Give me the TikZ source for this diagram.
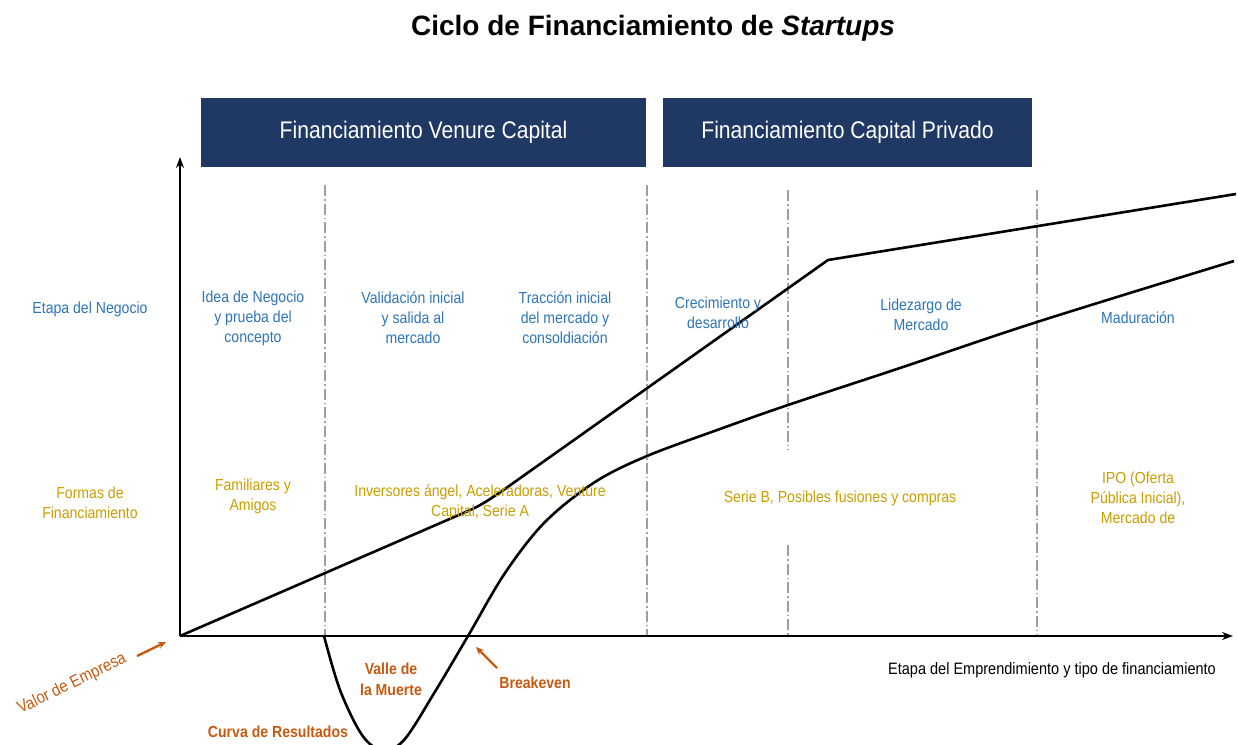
\documentclass[tikz,border=0pt]{standalone}
\usepackage{fontspec}
\setmainfont{Liberation Sans}
\newfontfamily\narrow{Liberation Sans}[FakeStretch=0.88]
\usetikzlibrary{arrows.meta}
\definecolor{navy}{RGB}{31,56,100}
\definecolor{stageblue}{RGB}{46,117,182}
\definecolor{gold}{RGB}{200,158,0}
\definecolor{rust}{RGB}{197,90,17}
\tikzset{
  hdr/.style={fill=navy, text=white, font=\narrow\fontsize{24}{28}\selectfont, minimum height=69pt, inner sep=0pt},
  lbl/.style={font=\narrow\fontsize{16}{20}\selectfont, align=center, inner sep=0pt},
  stage/.style={lbl, text=stageblue},
  fund/.style={lbl, text=gold},
  note/.style={font=\narrow\bfseries\fontsize{16}{21}\selectfont, align=center, inner sep=0pt, text=rust},
  divider/.style={draw=gray!75, line width=1.4pt, dash pattern=on 11pt off 3pt on 1.5pt off 3pt},
  axis/.style={draw=black, line width=2.2pt, -{Stealth[length=11pt,width=8pt]}},
  curve/.style={draw=black, line width=2.6pt, line join=round},
  pointer/.style={draw=rust, line width=2.4pt, -{Stealth[length=8pt,width=7pt]}}
}
\begin{document}
\begin{tikzpicture}[x=1pt,y=-1pt]
\useasboundingbox (0,0) rectangle (1238,744);

% title
\node[font=\bfseries\fontsize{28}{32}\selectfont] (title) at (653,28) {Ciclo de Financiamiento de \textit{Startups}};

% header boxes
\node[hdr, minimum width=445pt] (vc) at (423.5,132.5) {Financiamiento Venure Capital};
\node[hdr, minimum width=369pt] (cp) at (847.5,132.5) {Financiamiento Capital Privado};

% dividers
\draw[divider] (325,185) -- (325,636);
\draw[divider] (647,185) -- (647,636);
\draw[divider] (788,190) -- (788,450);
\draw[divider] (788,545) -- (788,636);
\draw[divider] (1037,190) -- (1037,636);

% axes
\coordinate (O) at (180,636);
\coordinate (ytop) at (180,157);
\coordinate (xend) at (1233,636);
\draw[axis] (O) -- (ytop);
\draw[axis] (O) -- (xend);

% value curve
\draw[curve] (O) -- (468,511) .. controls (482,505) and (490,499) .. (502,491) -- (828,260) -- (1236,194);

% results curve
\draw[curve] plot[smooth, tension=0.55] coordinates {(324,636) (340,690) (362,735) (382,750) (404,740) (436,690) (468,636) (505,573) (545,522) (595,482) (647,456) (720,429) (788,405) (900,368) (1037,322) (1234,261)};

% row labels
\node[stage] (rowa) at (90,309) {Etapa del Negocio};
\node[fund] (rowb) at (90,503) {Formas de\\Financiamiento};

% stage labels
\node[stage] (s1) at (253,318) {Idea de Negocio\\y prueba del\\concepto};
\node[stage] (s2) at (413,318) {Validación inicial\\y salida al\\mercado};
\node[stage] (s3) at (565,318) {Tracción inicial\\del mercado y\\consoldiación};
\node[stage] (s4) at (718,313) {Crecimiento y\\desarrollo};
\node[stage] (s5) at (921,315) {Lidezargo de\\Mercado};
\node[stage] (s6) at (1138,318) {Maduración};

% financing labels
\node[fund] (f1) at (253,496) {Familiares y\\Amigos};
\node[fund] (f2) at (480,502) {Inversores ángel, Aceleradoras, Venture\\Capital, Serie A};
\node[fund] (f3) at (840,498) {Serie B, Posibles fusiones y compras};
\node[fund] (f4) at (1138,498) {IPO (Oferta\\Pública Inicial),\\Mercado de};

% x-axis caption
\node[font=\narrow\fontsize{16.5}{20}\selectfont, inner sep=0pt, text=black] (xcap) at (1052,670) {Etapa del Emprendimiento y tipo de financiamiento};

% orange notes
\node[font=\narrow\fontsize{17}{20}\selectfont, text=rust, rotate=26, inner sep=0pt] (valor) at (72,684) {Valor de Empresa};
\coordinate (valtail) at (137,656);
\coordinate (valhead) at (166,642);
\draw[pointer] (valtail) -- (valhead);
\node[note] (valle) at (391,679) {Valle de\\la Muerte};
\node[note] (breakeven) at (535,683) {Breakeven};
\coordinate (bktail) at (497,668);
\coordinate (bkhead) at (476,647);
\draw[pointer] (bktail) -- (bkhead);
\node[note] (curva) at (278,732) {Curva de Resultados};
\end{tikzpicture}
\end{document}
